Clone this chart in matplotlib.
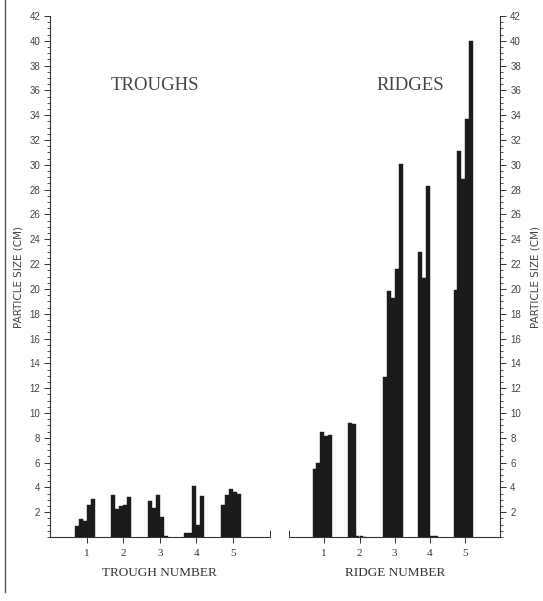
import numpy as np
import matplotlib
matplotlib.use('Agg')
import matplotlib.pyplot as plt
from matplotlib.lines import Line2D
from matplotlib.ticker import MultipleLocator

# === Dados (tamanho de particula, cm) ===
groups = [1, 2, 3, 4, 5]

trough_1 = [0.85, 1.45, 1.25, 2.6, 3.1]
trough_2 = [3.35, 2.25, 2.5, 2.55, 3.2]
trough_3 = [2.9, 2.3, 3.4, 1.6, 0.05]
trough_4 = [0.3, 0.35, 4.1, 1.0, 3.3]
trough_5 = [2.6, 3.4, 3.9, 3.6, 3.5]

ridge_1 = [5.5, 5.95, 8.5, 8.15, 8.25]
ridge_2 = [9.2, 9.1, 0.1, 0.08, 0.0]
ridge_3 = [12.9, 19.8, 19.3, 21.6, 30.1]
ridge_4 = [23.0, 20.9, 28.3, 0.1, 0.05]
ridge_5 = [19.9, 31.1, 28.9, 33.7, 40.0]

troughs = [trough_1, trough_2, trough_3, trough_4, trough_5]
ridges = [ridge_1, ridge_2, ridge_3, ridge_4, ridge_5]

bar_color = '#1c1a1c'
ink = '#333333'
bar_w = 0.11
offsets = -0.33 + bar_w * np.arange(5)

serif = ['Liberation Serif', 'DejaVu Serif']
sans = ['DejaVu Sans']

fig = plt.figure(figsize=(5.43, 6.01), dpi=100)
fig.patch.set_facecolor('white')

ax1 = fig.add_axes([50 / 543, 1 - 537 / 601, 219.5 / 543, 521 / 601])
ax2 = fig.add_axes([289 / 543, 1 - 537 / 601, 211.5 / 543, 521 / 601])


def draw_panel(ax, data, side, xlabel, title, title_x):
    for g, vals in zip(groups, data):
        ax.bar(g + offsets, vals, width=bar_w, align='edge',
               color=bar_color, edgecolor=bar_color, linewidth=0.3)

    ax.set_xlim(0, 6)
    ax.set_ylim(0, 42)

    for s in ['top', 'left', 'right']:
        ax.spines[s].set_visible(False)
    ax.spines['bottom'].set_color(ink)
    ax.spines['bottom'].set_linewidth(0.8)
    ax.spines[side].set_visible(True)
    ax.spines[side].set_color(ink)
    ax.spines[side].set_linewidth(0.8)

    if side == 'right':
        ax.yaxis.tick_right()
        ax.yaxis.set_label_position('right')
    else:
        ax.yaxis.tick_left()

    ax.set_yticks(np.arange(2, 43, 2))
    ax.yaxis.set_minor_locator(MultipleLocator(0.5))
    ax.tick_params(axis='y', which='major', length=4, width=0.7, color=ink,
                   labelsize=7, labelcolor='#444444', pad=3)
    ax.tick_params(axis='y', which='minor', length=2, width=0.6, color=ink)
    for lab in ax.get_yticklabels():
        lab.set_family(['Liberation Sans', 'DejaVu Sans'])

    ax.set_xticks(groups)
    ax.set_xticklabels([str(g) for g in groups], family=serif, fontsize=8, color='#333333')
    ax.set_xticks([6] if side == 'left' else [0], minor=True)
    ax.tick_params(axis='x', which='major', length=4, width=0.7, color=ink, pad=5)
    ax.tick_params(axis='x', which='minor', direction='in', length=5, width=0.7, color=ink)

    ax.set_xlabel(xlabel, family=serif, fontsize=9.5, color='#333333', labelpad=6)
    ax.set_ylabel('PARTICLE SIZE (CM)', family=sans, fontsize=7.5, color='#444444',
                  labelpad=4 if side == 'left' else 7)
    ax.text(title_x, 36.4, title, family=serif, fontsize=13.5, color='#444444',
            ha='center', va='center')
    ax.set_facecolor('none')


draw_panel(ax1, troughs, 'left', 'TROUGH NUMBER', 'TROUGHS', 2.88)
draw_panel(ax2, ridges, 'right', 'RIDGE NUMBER', 'RIDGES', 3.44)

# borda da pagina escaneada
fig.add_artist(Line2D([5 / 543, 5 / 543], [1 - 592 / 601, 1.0],
                      transform=fig.transFigure, color='#555555', linewidth=1.0))

plt.savefig('out.png', dpi=100)
plt.close()
